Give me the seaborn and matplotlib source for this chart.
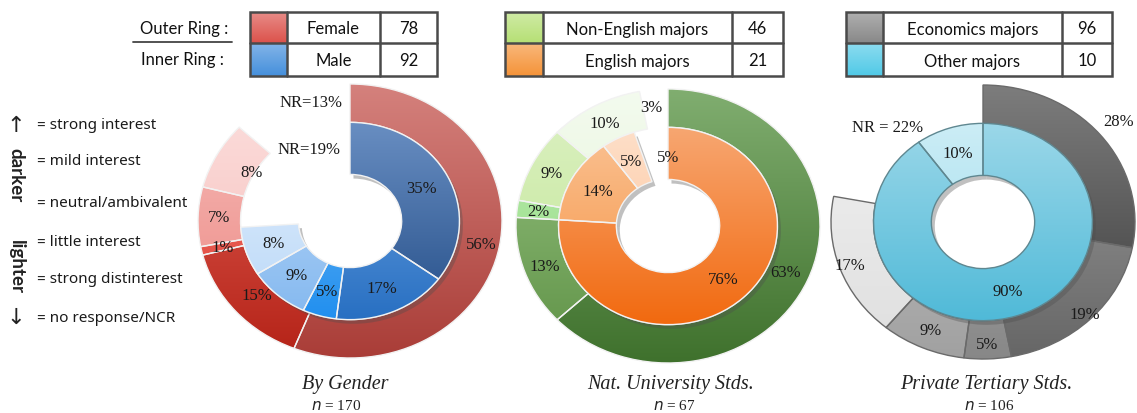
import colorsys
import numpy as np
import matplotlib
matplotlib.use("Agg")
import matplotlib.pyplot as plt
import matplotlib.colors as mcolors
from matplotlib.patches import Rectangle, PathPatch
import matplotlib.transforms as mtransforms
import seaborn as sns

sns.set_theme(style="white")
plt.rcParams["font.family"] = ["DejaVu Sans"]

# ---------------- data ----------------
titles = ["By Gender", "Nat. University Stds.", "Private Tertiary Stds."]
total_n = [170, 67, 106]

outer_groups = ["Female", "Non-English majors", "Economics majors"]
outer_n = [78, 46, 96]
inner_groups = ["Male", "English majors", "Other majors"]
inner_n = [92, 21, 10]

# percentages clockwise from 12 o'clock: strong interest -> strong disinterest
gender_outer = [56, 15, 1, 7, 8]
gender_outer_nr = 13
gender_inner = [35, 17, 5, 9, 8]
gender_inner_nr = 19

nat_outer = [63, 13, 2, 9, 10]
nat_outer_nr = 3
nat_inner = [76, 14, 5]
nat_inner_nr = 5

priv_outer = [28, 19, 5, 9, 17]
priv_outer_nr = 22
priv_inner = [90, 10]
priv_inner_nr = 0

scale_labels = ["= strong interest", "= mild interest", "= neutral/ambivalent",
                "= little interest", "= strong distinterest", "= no response/NCR"]

# ---------------- styles ----------------
outer_colors = [
    ["#c4504a", "#dc2a1c", "#e65a50", "#f2a6a2", "#fad4d2"],
    ["#4f8e38", "#72ae55", "#a8e49a", "#d0ecae", "#eff9e8"],
    ["#4a4a4a", "#7c7c7c", "#9e9e9e", "#b6b6b6", "#ededed"],
]
inner_colors = [
    ["#2e62aa", "#3f86d8", "#4aa4f2", "#a6ccf4", "#d6e8fb"],
    ["#f4843a", "#f8aa6a", "#fdd3b4"],
    ["#74c8e0", "#b8e6f2"],
]
swatch_outer = ["#e06660", "#c0e488", "#959595"]
swatch_inner = ["#5a9ce0", "#f6a050", "#66d0ea"]

outer_sets = [(gender_outer, gender_outer_nr), (nat_outer, nat_outer_nr), (priv_outer, priv_outer_nr)]
inner_sets = [(gender_inner, gender_inner_nr), (nat_inner, nat_inner_nr), (priv_inner, priv_inner_nr)]

outer_label_r = [[0.88, 0.82, 0.86, 0.86, 0.74],
                 [0.84, 0.86, 0.86, 0.86, 0.86],
                 [1.16, 0.95, 0.89, 0.86, 0.93]]
inner_label_r = 0.53

W, H = 1137, 414
centers = [(350, 222), (668, 227), (983, 223)]
RX, RY = 152, 137
LIM = 1.18
R_OUT, R_MID, R_HOLE = 1.0, 0.72, 0.34

serif = ["Liberation Serif", "DejaVu Serif"]
sans = ["Lato", "DejaVu Sans"]
TXT = "#1a1a1a"

fig = plt.figure(figsize=(W / 100, H / 100), dpi=100)

# overlay axes in pixel coordinates for tables / legend
ov = fig.add_axes([0, 0, 1, 1], zorder=0)
ov.set_xlim(0, W)
ov.set_ylim(H, 0)
ov.axis("off")


def shade(c, f):
    """Lighten (f>0, mix with white) or darken (f<0, HLS keeping saturation)."""
    r, g, b = mcolors.to_rgb(c)
    if f >= 0:
        return (r + (1 - r) * f, g + (1 - g) * f, b + (1 - b) * f)
    h, l, s = colorsys.rgb_to_hls(r, g, b)
    l = l * (1 + f * (1.15 - l))
    return colorsys.hls_to_rgb(h, min(max(l, 0), 1), s)


def gradient_img(ax, c, extent, clip, z, top=0.28, bot=-0.27):
    t = np.linspace(0, 1, 256)[:, None]
    c1 = np.array(shade(c, top))
    c2 = np.array(shade(c, bot))
    img = c1[None, None, :] * (1 - t[..., None]) + c2[None, None, :] * t[..., None]
    im = ax.imshow(img, extent=extent, origin="upper", aspect="auto",
                   zorder=z, interpolation="bilinear")
    if clip is not None:
        im.set_clip_path(clip)
    return im


def draw_ring(ax, vals, nr, colors, radius, width, zbase, shadow=False, edge="#f4f4f4"):
    data = [v / 100 for v in vals] + ([nr / 100] if nr else [])
    cols = colors[:len(vals)] + (["none"] if nr else [])
    wedges, _ = ax.pie(data, radius=radius, startangle=90, counterclock=False,
                       normalize=False, colors=cols,
                       wedgeprops=dict(width=width, edgecolor=edge, linewidth=1.0))
    ax.set_aspect("auto")
    ax.set_xlim(-LIM, LIM)
    ax.set_ylim(-LIM, LIM)
    vis = wedges[:len(vals)]
    if nr:
        wedges[-1].set_visible(False)
    if shadow:
        off = mtransforms.offset_copy(ax.transData, fig=fig, x=2.5, y=-3.0, units="points")
        for w in vis:
            sp = PathPatch(w.get_path(), transform=off, facecolor="0.3",
                           edgecolor="none", alpha=0.35, zorder=zbase - 0.3)
            ax.add_patch(sp)
    for w, c in zip(vis, colors):
        w.set_facecolor("none")
        w.set_zorder(zbase + 0.2)
        gradient_img(ax, c, [-radius, radius, -radius, radius], w, zbase)
    return vis


for i in range(3):
    cx, cy = centers[i]
    aw, ah = 2 * LIM * RX, 2 * LIM * RY
    ax = fig.add_axes([(cx - aw / 2) / W, (H - cy - ah / 2) / H, aw / W, ah / H], zorder=2)
    ax.patch.set_alpha(0)
    ov_vals, ov_nr = outer_sets[i]
    in_vals, in_nr = inner_sets[i]
    edge = "#f2f2f2" if i < 2 else "#6a6a6a"
    ow = draw_ring(ax, ov_vals, ov_nr, outer_colors[i], R_OUT, R_OUT - R_MID, 2, edge=edge)
    iw = draw_ring(ax, in_vals, in_nr, inner_colors[i], R_MID, R_MID - R_HOLE, 4,
                   shadow=True, edge="#f2f2f2" if i < 2 else "#5f8790")
    ax.axis("off")
    # percentage labels at wedge mid-angles
    for k, (w, v) in enumerate(zip(ow, ov_vals)):
        a = np.deg2rad((w.theta1 + w.theta2) / 2)
        r = outer_label_r[i][k]
        ax.text(r * np.cos(a), r * np.sin(a), f"{v}%", ha="center", va="center",
                fontsize=12, family=serif, color=TXT, zorder=10)
    for k, (w, v) in enumerate(zip(iw, in_vals)):
        a = np.deg2rad((w.theta1 + w.theta2) / 2)
        r = inner_label_r
        ax.text(r * np.cos(a), r * np.sin(a), f"{v}%", ha="center", va="center",
                fontsize=12, family=serif, color=TXT, zorder=10)
    # titles
    ov.text(cx - 5 if i == 0 else cx + 3, 385, titles[i], ha="center", va="center",
            fontsize=14.5, family=serif, style="italic", color="#222222")
    ov.text(cx - 14 if i == 0 else cx + 6, 406, f"$n$ = {total_n[i]}", ha="center", va="center",
            fontsize=11, family=serif, color="#222222")

# no-response annotations (drawn on top of the rings)
top = fig.add_axes([0, 0, 1, 1], zorder=5)
top.set_xlim(0, W)
top.set_ylim(H, 0)
top.axis("off")
top.text(311, 103, f"NR={gender_outer_nr}%", ha="center", va="center", fontsize=12, family=serif, color=TXT)
top.text(309, 150, f"NR={gender_inner_nr}%", ha="center", va="center", fontsize=12, family=serif, color=TXT)
top.text(651, 108, f"{nat_outer_nr}%", ha="center", va="center", fontsize=12, family=serif, color=TXT)
top.text(668, 158, f"{nat_inner_nr}%", ha="center", va="center", fontsize=12, family=serif, color=TXT)
top.text(888, 128, f"NR = {priv_outer_nr}%", ha="center", va="center", fontsize=12, family=serif, color=TXT)

# ---------------- legend tables ----------------
tables = [(250, 287, 380, 437), (505, 543, 732, 783), (846, 883, 1062, 1112)]
ty0, tym, ty1 = 13, 44, 77
for i, (x0, x1, x2, x3) in enumerate(tables):
    for (ya, yb, col) in [(ty0, tym, swatch_outer[i]), (tym, ty1, swatch_inner[i])]:
        gradient_img(ov, col, [x0, x1, yb, ya], None, 1, top=0.25, bot=-0.15)
    ov.add_patch(Rectangle((x0, ty0), x3 - x0, ty1 - ty0, fill=False, edgecolor="#4a4a4a", lw=1.8, zorder=3))
    ov.plot([x0, x3], [tym, tym], color="#4a4a4a", lw=1.8, zorder=3)
    for xx in (x1, x2):
        ov.plot([xx, xx], [ty0, ty1], color="#4a4a4a", lw=1.8, zorder=3)
    ov.text((x1 + x2) / 2, (ty0 + tym) / 2 + 1, outer_groups[i], ha="center", va="center", fontsize=12, family=sans, color="#111111")
    ov.text((x1 + x2) / 2, (tym + ty1) / 2 + 1, inner_groups[i], ha="center", va="center", fontsize=12, family=sans, color="#111111")
    ov.text((x2 + x3) / 2, (ty0 + tym) / 2 + 1, str(outer_n[i]), ha="center", va="center", fontsize=12, family=sans, color="#111111")
    ov.text((x2 + x3) / 2, (tym + ty1) / 2 + 1, str(inner_n[i]), ha="center", va="center", fontsize=12, family=sans, color="#111111")
ov.set_xlim(0, W)
ov.set_ylim(H, 0)

ov.text(228, 29, "Outer Ring :", ha="right", va="center", fontsize=12, family=sans, color="#111111")
ov.plot([133, 232], [43, 43], color="#444444", lw=1.3)
ov.text(224, 60, "Inner Ring :", ha="right", va="center", fontsize=12, family=sans, color="#111111")

# ---------------- left scale legend ----------------
ys = [126, 162, 204, 243, 280, 319]
for y, s in zip(ys, scale_labels):
    ov.text(37, y, s, ha="left", va="center", fontsize=11, family=["Noto Sans", "DejaVu Sans"], color=TXT)
ov.text(16, 126, "\u2191", ha="center", va="center", fontsize=16, color="#222222")
ov.text(16, 175, "darker", ha="center", va="center", rotation=-90, fontsize=13.5, fontweight="bold", family=sans, color="#222222")
ov.text(16, 267, "lighter", ha="center", va="center", rotation=-90, fontsize=13.5, fontweight="bold", family=sans, color="#222222")
ov.text(16, 318, "\u2193", ha="center", va="center", fontsize=16, color="#222222")

fig.savefig("out.png", dpi=100)
